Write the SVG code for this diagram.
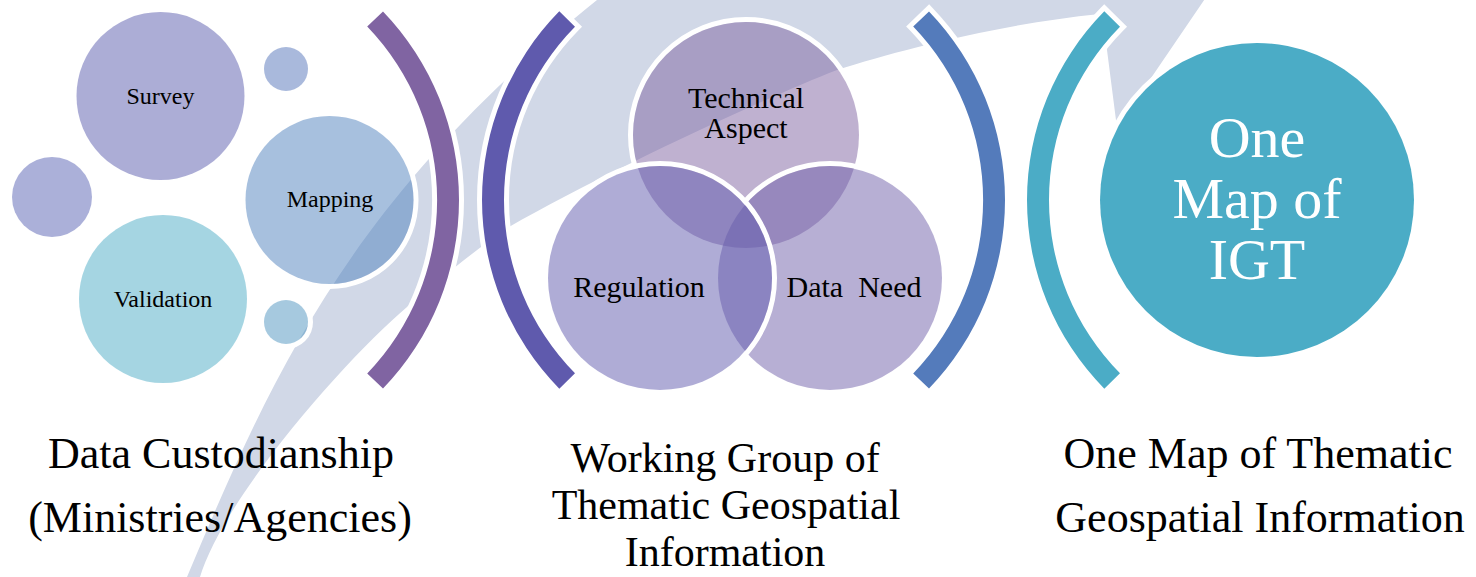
<svg xmlns="http://www.w3.org/2000/svg" width="1476" height="577" viewBox="0 0 1476 577">
  <style>
    .lbl { font-family: "Liberation Serif", "Times New Roman", serif; fill: #000; text-anchor: middle; }
    .small { font-size: 24px; }
    .venn { font-size: 30px; white-space: pre; }
    .cap { font-size: 44px; }
    .capm { font-size: 42px; }
    .big { font-family: "Liberation Serif", "Times New Roman", serif; fill: #fff; text-anchor: middle; font-size: 58px; }
    .ring { fill: none; stroke: #fff; stroke-width: 5; }
    .arc { stroke: #fff; stroke-width: 10; paint-order: stroke; stroke-linejoin: miter; }
    .t50 { fill-opacity: 0.5; }
  </style>
  <defs>
    <mask id="mTech" maskUnits="userSpaceOnUse" x="0" y="0" width="1476" height="577">
      <rect x="0" y="0" width="1476" height="577" fill="#fff"/>
      <circle cx="660" cy="278" r="112" fill="#000"/>
      <circle cx="830" cy="278" r="112" fill="#000"/>
    </mask>
    <mask id="mDN" maskUnits="userSpaceOnUse" x="0" y="0" width="1476" height="577">
      <rect x="0" y="0" width="1476" height="577" fill="#fff"/>
      <circle cx="660" cy="278" r="112" fill="#000"/>
    </mask>
  </defs>

  <g id="background-swoosh">
    <path fill="#D1D8E7" d="M187,577 C271,377 349,200 597,0 L660,-60 L1245,-60 L1117,128 L1107,50 L1100,14 C1000,24 900,50 837,70 C760,100 600,175 509,227 C475,250 435,283 407,307 C350,355 225,495 200,577 Z"/>
  </g>

  <g id="custodians">
    <g id="node-survey">
      <circle class="ring" cx="160.5" cy="96" r="86.5"/>
      <circle class="t50" cx="160.5" cy="96" r="84" fill="#5A5BAD"/>
      <text class="lbl small" x="160.5" y="104">Survey</text>
    </g>
    <g id="node-dot-top">
      <circle class="ring" cx="286" cy="69" r="24.5"/>
      <circle class="t50" cx="286" cy="69" r="22" fill="#5373B9"/>
    </g>
    <g id="node-dot-left">
      <circle class="ring" cx="52" cy="197" r="42.5"/>
      <circle class="t50" cx="52" cy="197" r="40" fill="#5761B3"/>
    </g>
    <g id="node-mapping">
      <circle class="ring" cx="329.5" cy="200" r="86.5"/>
      <circle class="t50" cx="329.5" cy="200" r="84" fill="#4F81BD"/>
      <text class="lbl small" x="330" y="207">Mapping</text>
    </g>
    <g id="node-validation">
      <circle class="ring" cx="163" cy="299" r="86.5"/>
      <circle class="t50" cx="163" cy="299" r="84" fill="#4BACC6"/>
      <text class="lbl small" x="163" y="307">Validation</text>
    </g>
    <g id="node-dot-bottom">
      <circle class="ring" cx="286" cy="322" r="24.5"/>
      <circle class="t50" cx="286" cy="322" r="22" fill="#4D93BF"/>
    </g>
  </g>

  <g id="connectors">
    <path id="arc-1" class="arc" fill="#8064A2" d="M383,11.4 A272,272 0 0 1 383,388.6 L367.2,373.4 A250,250 0 0 0 367.2,26.6 Z"/>
    <path id="arc-2" class="arc" fill="#5F5AAD" d="M559.3,11.3 A269,269 0 0 0 559.3,388.7 L575,373.3 A247,247 0 0 1 575,26.7 Z"/>
    <path id="arc-3" class="arc" fill="#547BBB" d="M929,11.4 A272,272 0 0 1 929,388.6 L913.2,373.4 A250,250 0 0 0 913.2,26.6 Z"/>
    <path id="arc-4" class="arc" fill="#4BACC6" d="M1104.3,11.3 A269,269 0 0 0 1104.3,388.7 L1120,373.3 A247,247 0 0 1 1120,26.7 Z"/>
  </g>

  <g id="working-group">
    <g id="node-technical">
      <circle class="ring" cx="746" cy="135" r="115.5" mask="url(#mTech)"/>
      <circle class="t50" cx="746" cy="135" r="113" fill="#8064A2"/>
    </g>
    <g id="node-dataneed">
      <circle class="ring" cx="830" cy="278" r="114.5" mask="url(#mDN)"/>
      <circle class="t50" cx="830" cy="278" r="112" fill="#705FA9"/>
    </g>
    <g id="node-regulation">
      <circle class="ring" cx="660" cy="278" r="114.5"/>
      <circle class="t50" cx="660" cy="278" r="112" fill="#5F5AAD"/>
    </g>
    <text class="lbl venn" x="746" y="108">Technical</text>
    <text class="lbl venn" x="746" y="138">Aspect</text>
    <text class="lbl venn" x="639" y="297">Regulation</text>
    <text class="lbl venn" x="854" y="297">Data  Need</text>
  </g>

  <g id="node-onemap">
    <circle class="ring" cx="1257" cy="200" r="159.5"/>
    <circle cx="1257" cy="200" r="157" fill="#4BACC6"/>
    <text class="big" x="1257" y="157">One</text>
    <text class="big" x="1257" y="218">Map of</text>
    <text class="big" x="1257" y="279">IGT</text>
  </g>

  <g id="captions">
    <g id="caption-custodianship">
      <text class="lbl cap" x="221" y="468">Data Custodianship</text>
      <text class="lbl cap" x="220" y="532">(Ministries/Agencies)</text>
    </g>
    <g id="caption-working-group">
      <text class="lbl capm" x="725" y="472">Working Group of</text>
      <text class="lbl capm" x="726" y="519">Thematic Geospatial</text>
      <text class="lbl capm" x="725" y="566">Information</text>
    </g>
    <g id="caption-onemap">
      <text class="lbl cap" x="1258" y="468">One Map of Thematic</text>
      <text class="lbl cap" x="1260" y="532">Geospatial Information</text>
    </g>
  </g>
</svg>
